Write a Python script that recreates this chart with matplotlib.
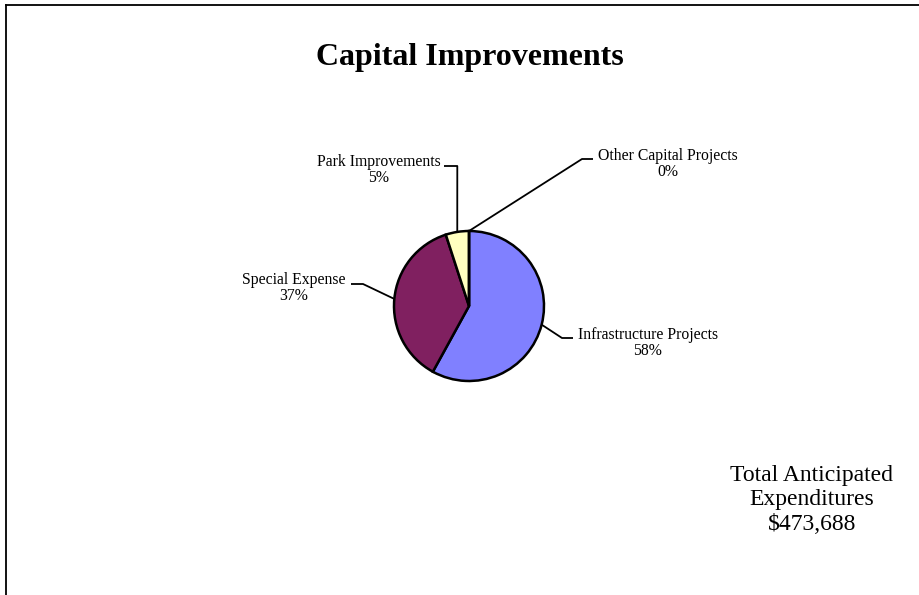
import numpy as np
import matplotlib.pyplot as plt
from matplotlib.lines import Line2D

# capital improvement budget shares (percent)
categories = ["Infrastructure Projects", "Special Expense",
              "Park Improvements", "Other Capital Projects"]
shares = [58, 37, 5, 0]
colors = ["#8080FF", "#802060", "#FFFFC0", "#FFFFFF"]
total_label = "Total Anticipated\nExpenditures\n$473,688"

W, H = 919, 595
fig = plt.figure(figsize=(W / 100, H / 100), dpi=100)
ax = fig.add_axes([0, 0, 1, 1])

serif = ["Liberation Serif", "DejaVu Serif"]

# page frame (top and left edges)
fig.add_artist(Line2D([6 / W, 1], [1 - 5 / H, 1 - 5 / H], color="black", lw=1.3))
fig.add_artist(Line2D([6 / W, 6 / W], [0, 1 - 5 / H], color="black", lw=1.3))

cx, cy, r = 469, H - 306, 75
wedges, _ = ax.pie(shares, colors=colors, startangle=90, counterclock=False,
                   center=(cx, cy), radius=r, frame=True,
                   wedgeprops=dict(edgecolor="black", linewidth=1.8))
ax.set_xlim(0, W)
ax.set_ylim(0, H)
ax.set_aspect("equal")
ax.axis("off")

# elbow points of the leader lines and label centres (pixel coords, y down)
leaders = {
    "Infrastructure Projects": [(562, 338), (573, 338)],
    "Special Expense": [(363, 284), (351, 284)],
    "Park Improvements": [(457.3, 166), (444, 166)],
    "Other Capital Projects": [(582, 159), (593, 159)],
}
label_pos = {
    "Infrastructure Projects": (648, 343),
    "Special Expense": (294, 288),
    "Park Improvements": (379, 170),
    "Other Capital Projects": (668, 164),
}

cum = np.cumsum([0] + shares) / sum(shares)
for i, name in enumerate(categories):
    mid = (cum[i] + cum[i + 1]) / 2
    ang = np.radians(90 - 360 * mid)
    ex, ey = cx + r * np.cos(ang), cy + r * np.sin(ang)
    pts = [(ex, ey)] + [(x, H - y) for x, y in leaders[name]]
    xs, ys = zip(*pts)
    ax.plot(xs, ys, color="black", lw=1.3, solid_capstyle="butt", zorder=1)
    lx, ly = label_pos[name]
    ax.text(lx, H - ly, f"{name}\n{shares[i]}%", ha="center", va="center",
            fontsize=11.3, family=serif, linespacing=1.0)

ax.text(470, H - 57, "Capital Improvements", ha="center", va="center",
        fontsize=23, fontweight="bold", family=serif)
ax.text(812, H - 500, total_label, ha="center", va="center",
        fontsize=17, family=serif, linespacing=1.22)

fig.savefig("out.png", dpi=100)
